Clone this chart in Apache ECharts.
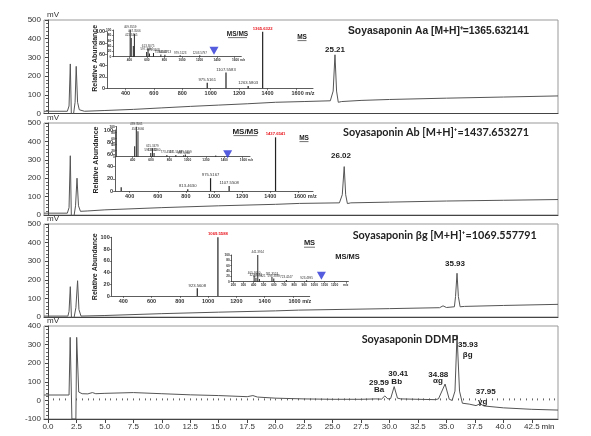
<!DOCTYPE html>
<html>
<head>
<meta charset="utf-8">
<script src="https://cdn.jsdelivr.net/npm/echarts@6/dist/echarts.min.js"></script>
<style>
  html, body { margin: 0; padding: 0; background: #fff; }
  #main { width: 591px; height: 436px; }
</style>
</head>
<body>
<div id="main"></div>
<script>
// chromatograms: [time (min), signal (mV)]
const traceAa = [[-0.35, 12], [1.7, 12], [1.85, 40], [1.96, 265], [2.05, 0], [2.12, -20], [2.25, 0], [2.38, 60], [2.48, 252], [2.6, 60], [2.75, 20], [3.2, 12], [5, 16], [7.5, 22], [10, 30], [12.5, 38], [15, 45], [17.5, 52], [20, 60], [22.5, 64], [24.8, 68], [25.05, 120], [25.21, 314], [25.35, 120], [25.5, 60], [25.8, 64], [27.5, 70], [30, 75], [35, 82], [40, 88], [44.8, 94]];
const traceAb = [[-0.35, 10], [1.7, 10], [1.85, 40], [1.96, 322], [2.05, 0], [2.15, -20], [2.3, 0], [2.42, 50], [2.55, 200], [2.68, 50], [2.85, 20], [3.5, 22], [5, 28], [10, 40], [15, 50], [20, 58], [22.1, 63], [25.6, 66], [25.85, 110], [26.02, 263], [26.15, 110], [26.3, 62], [26.6, 66], [30, 70], [35, 76], [40, 80], [44.8, 84]];
const traceBg = [[-0.35, 5], [1.75, 5], [1.85, 30], [1.96, 163], [2.06, 0], [2.15, -20], [2.3, 0], [2.45, 50], [2.6, 195], [2.72, 40], [2.9, 5], [5, 8], [10, 18], [15, 26], [20, 33], [22, 37], [30, 45], [34.4, 50], [34.7, 60], [35.0, 51], [35.7, 55], [35.8, 110], [35.93, 235], [36.05, 110], [36.2, 55], [36.6, 57], [40, 62], [44.8, 68]];
const traceDdmp = [[-0.35, 29], [1.85, 29], [1.95, 339], [2.0, 339], [2.1, -100], [2.45, -100], [2.52, 339], [2.6, 339], [2.7, 45], [3.0, 36], [3.5, 35], [3.9, 42], [4.2, 36], [5, 38], [7.5, 42], [10, 36], [12.5, 30], [15, 26], [17.5, 20], [18.0, 26], [18.4, 18], [20, 12], [22.5, 8], [25, 6], [27.5, 6], [28.8, 8], [29.3, 7], [29.59, 24], [29.85, 8], [30.1, 10], [30.41, 74], [30.7, 12], [31, 8], [32.5, 6], [34, 4], [34.3, 8], [34.88, 88], [35.25, 6], [35.5, 0], [35.75, 50], [35.93, 352], [36.15, 50], [36.4, -15], [37, -20], [37.6, -28], [37.95, -18], [38.3, -30], [40, -40], [42.5, -48], [44.8, -52]];

const timeTicks = [0, 2.5, 5, 7.5, 10, 12.5, 15, 17.5, 20, 22.5, 25, 27.5, 30, 32.5, 35, 37.5, 40, 42.5];

// full-scan MS insets
const msAaMz = [975.5161, 1107.5583, 1263.5803, 1365.6322];
const msAaInt = [10, 28, 4, 100];
const msAaLbl = ['975.5161', '1107.5583', '1263.5803', '1365.6322'];
const msAbMz = [340, 813.463, 975.5167, 1107.5508, 1437.6541];
const msAbInt = [6, 3, 21, 8, 88];
const msAbLbl = ['', '813.4630', '975.5167', '1107.5508', '1437.6541'];
const msBgMz = [923.5608, 1069.5588];
const msBgInt = [13, 100];
const msBgLbl = ['923.5608', '1069.5588'];
const mzTicks = [400, 600, 800, 1000, 1200, 1400, 1600];

// MS/MS insets
const msmsAaMz = [409.36, 421.35, 445.3, 457.36, 597.34, 613.31, 629.3, 675.36, 759.41, 805.47, 979.51, 1203.58];
const msmsAaInt = [100, 70, 40, 85, 18, 30, 12, 14, 8, 7, 5, 5];
const msmsAaLbl = ['409.3559', '421.3455', '', '457.3566', '597.3404', '613.3075', '', '675.3608', '759.4083', '805.4713', '979.5123', '1203.5797'];
const msmsAbMz = [421.3, 439.36, 457.37, 597.34, 615.35, 633.36, 773.45, 871.51, 957.51, 975.52, 1307.6];
const msmsAbInt = [35, 100, 85, 12, 28, 12, 6, 6, 5, 7, 4];
const msmsAbLbl = ['', '439.3561', '457.3666', '597.3352', '615.3479', '633.3560', '773.4516', '871.5148', '957.5066', '975.5159', ''];
const msmsBgMz = [405.36, 423.36, 441.37, 457.36, 581.35, 599.39, 723.42, 923.5];
const msmsBgInt = [22, 15, 100, 10, 18, 12, 6, 5];
const msmsBgLbl = ['405.3610', '423.3581', '441.3914', '457.3621', '581.3524', '599.3889', '723.4247', '923.4995'];
const mzTicksBg = [200, 300, 400, 500, 600, 700, 800, 900, 1000, 1100, 1200];
const precAa = [[1365.6, 22]];
const precAb = [[1437.7, 8]];
const precBg = [[1069.6, 22]];

const chart = echarts.init(document.getElementById('main'), null, { renderer: 'canvas' });

const AX = '#444';
const grid = [], xAxis = [], yAxis = [], series = [];

const panels = [
  { trace: traceAa, top: 20, height: 93.5, min: 0, max: 500 },
  { trace: traceAb, top: 123, height: 92, min: 0, max: 500 },
  { trace: traceBg, top: 224, height: 93, min: 0, max: 500 },
  { trace: traceDdmp, top: 326, height: 93, min: -100, max: 400 }
];

panels.forEach((p, i) => {
  const last = i === panels.length - 1;
  grid.push({ left: 44, top: p.top, width: 514, height: p.height, show: true, borderColor: '#999', borderWidth: 1 });
  xAxis.push({
    type: 'value', gridIndex: i, min: -0.35, max: 44.8,
    axisLine: { show: true, onZero: false, lineStyle: { color: AX } },
    axisTick: { show: last, customValues: timeTicks, length: 4, lineStyle: { color: AX } },
    axisLabel: { show: last, customValues: timeTicks, formatter: v => v.toFixed(1), fontSize: 8, color: '#333', margin: 4, fontFamily: 'Liberation Sans' },
    splitLine: { show: false }
  });
  yAxis.push({
    type: 'value', gridIndex: i, min: p.min, max: p.max, interval: 100,
    name: 'mV', nameLocation: 'end', nameGap: 1,
    nameTextStyle: { align: 'left', verticalAlign: 'bottom', fontSize: 8, color: '#333', padding: [0, 0, 0, -1] },
    axisLine: { show: true, lineStyle: { color: AX } },
    axisTick: { show: true, length: 3, lineStyle: { color: AX } },
    minorTick: { show: true, splitNumber: 5, length: 2, lineStyle: { color: '#666' } },
    axisLabel: { fontSize: 8, color: '#333', margin: 3, fontFamily: 'Liberation Sans' },
    splitLine: { show: false }
  });
  series.push({
    type: 'line', xAxisIndex: i, yAxisIndex: i, data: p.trace,
    showSymbol: false, lineStyle: { color: '#555', width: 1 }, clip: true, z: 2
  });
});

// minor ticks under the bottom panel
const minorTimes = [];
for (let t = 0; t <= 44.5; t += 0.5) minorTimes.push(t);
xAxis.push({
  type: 'value', gridIndex: 3, min: -0.35, max: 44.8,
  axisLine: { show: false }, axisLabel: { show: false }, splitLine: { show: false },
  axisTick: { show: true, customValues: minorTimes, length: 2, lineStyle: { color: '#666' } }
});

function inset(g, xmin, xmax, ticks, fmt, mz, inten, lbl, opt) {
  const gi = grid.length;
  grid.push(Object.assign({ show: false }, g));
  xAxis.push({
    type: 'value', gridIndex: gi, min: xmin, max: xmax,
    axisLine: { show: true, onZero: false, lineStyle: { color: '#333', width: 0.8 } },
    axisTick: { show: true, customValues: ticks, length: opt.tick, lineStyle: { color: '#333', width: 0.6 } },
    axisLabel: { customValues: ticks, formatter: fmt, fontSize: opt.fs, fontWeight: 'bold', color: '#333', margin: 2,
      rich: { m: { fontSize: opt.fs, fontWeight: 'bold', color: '#333', padding: [0, 0, 0, opt.mpad] } } },
    splitLine: { show: false }
  });
  const xi = xAxis.length - 1;
  yAxis.push({
    type: 'value', gridIndex: gi, min: 0, max: 100, interval: 20,
    axisLine: { show: true, lineStyle: { color: '#333', width: 0.8 } },
    axisTick: { show: true, length: opt.tick, lineStyle: { color: '#333', width: 0.6 } },
    axisLabel: { fontSize: opt.fs, fontWeight: 'bold', color: '#333', margin: 2 },
    splitLine: { show: false }
  });
  const yi = yAxis.length - 1;
  series.push({
    type: 'bar', xAxisIndex: xi, yAxisIndex: yi, barWidth: opt.bw,
    data: mz.map((m, k) => ({
      value: [m, inten[k]],
      label: { color: k === opt.red ? '#e8141c' : '#333', fontWeight: k === opt.red ? 'bold' : 'normal' }
    })),
    itemStyle: { color: '#222' },
    label: { show: true, position: 'top', distance: 1, fontSize: opt.lfs, formatter: p => lbl[p.dataIndex] },
    z: 5
  });
  if (opt.prec) {
    series.push({
      type: 'scatter', xAxisIndex: xi, yAxisIndex: yi, data: opt.prec,
      symbol: 'triangle', symbolRotate: 180, symbolSize: [9, 8],
      itemStyle: { color: '#2b35d6' }, z: 6
    });
  }
}

const fmtM = v => v === 1600 ? '{m|1600 m/z}' : String(v);

// main MS insets
inset({ left: 107, top: 31.7, width: 206, height: 56.6 }, 270, 1720, mzTicks, fmtM,
  msAaMz, msAaInt, msAaLbl, { fs: 5.5, lfs: 4.2, tick: 2, red: 3, bw: 1.2, mpad: 14 });
inset({ left: 115, top: 130, width: 198, height: 61 }, 296, 1704, mzTicks, fmtM,
  msAbMz, msAbInt, msAbLbl, { fs: 5.5, lfs: 4.2, tick: 2, red: 4, bw: 1.2, mpad: 14 });
inset({ left: 111.7, top: 237.3, width: 198, height: 58.7 }, 318, 1719, mzTicks, fmtM,
  msBgMz, msBgInt, msBgLbl, { fs: 5.5, lfs: 4.2, tick: 2, red: 1, bw: 1.2, mpad: 14 });
// MS/MS insets
inset({ left: 113.3, top: 30, width: 128, height: 26.7 }, 217, 1677, mzTicks, fmtM,
  msmsAaMz, msmsAaInt, msmsAaLbl, { fs: 3.2, lfs: 3, tick: 1.5, red: -1, bw: 0.8, mpad: 8, prec: precAa });
inset({ left: 116.7, top: 126.7, width: 133.3, height: 30 }, 225, 1682, mzTicks, fmtM,
  msmsAbMz, msmsAbInt, msmsAbLbl, { fs: 3.2, lfs: 3, tick: 1.5, red: -1, bw: 0.8, mpad: 8, prec: precAb });
inset({ left: 231.7, top: 255, width: 116.7, height: 26.7 }, 184, 1336, mzTicksBg.concat([1310]),
  v => v > 1250 ? 'm/z' : String(v),
  msmsBgMz, msmsBgInt, msmsBgLbl, { fs: 3.2, lfs: 3, tick: 1.5, red: -1, bw: 0.8, mpad: 0, prec: precBg });

// annotation text
const T = [];
function txt(s, x, y, font, o) {
  T.push(Object.assign({
    type: 'text', x: x, y: y, z: 20,
    style: { text: s, font: font, fill: '#222', textAlign: 'center', textVerticalAlign: 'middle', align: 'center', verticalAlign: 'middle' }
  }, o || {}));
}
function left(s, x, y, font) {
  T.push({ type: 'text', x: x, y: y, z: 20,
    style: { text: s, font: font, fill: '#222', textAlign: 'left', textVerticalAlign: 'middle', align: 'left', verticalAlign: 'middle' } });
}
function uline(x1, x2, y) {
  T.push({ type: 'line', z: 20, shape: { x1: x1, y1: y, x2: x2, y2: y }, style: { stroke: '#333', lineWidth: 0.7 } });
}
const TF = 'bold 10.3px "Liberation Sans", sans-serif';
const TF2 = 'bold 10.8px Lato, sans-serif';
left('Soyasaponin Aa [M+H]\u207A=1365.632141', 348, 31, TF);
left('Soyasaponin Ab [M+H]\u207A=1437.653271', 343, 132.3, TF2);
left('Soyasaponin \u03B2g [M+H]\u207A=1069.557791', 352.7, 236, TF2);
left('Soyasaponin DDMP', 361.7, 339.3, TF2);

const PF = 'bold 8px "Liberation Sans", sans-serif';
txt('25.21', 335, 49.3, PF);
txt('26.02', 341, 156, PF);
txt('35.93', 455, 264, PF);
txt('35.93', 468, 345, PF);
txt('\u03B2g', 467.7, 354.3, PF);
txt('30.41', 398.3, 374, PF);
txt('Bb', 396.7, 381.7, PF);
txt('29.59', 379, 382.7, PF);
txt('Ba', 379, 390, PF);
txt('34.88', 438.3, 375, PF);
txt('\u03B1g', 438, 380.7, PF);
txt('37.95', 485.7, 391.7, PF);
txt('\u03B3g', 482.7, 401.7, PF);
txt('min', 548, 427, '8px "Liberation Sans", sans-serif');

const MF = 'bold 6.5px "Liberation Sans", sans-serif';
txt('MS/MS', 237.5, 34.3, MF); uline(228, 247, 37.6);
txt('MS', 302, 37.3, MF); uline(297.5, 306.5, 40.6);
txt('MS/MS', 245.5, 131.7, 'bold 8px "Liberation Sans", sans-serif'); uline(233.5, 257.5, 135.6);
txt('MS', 304, 138.3, MF); uline(299.5, 308.5, 141.6);
txt('MS', 309.5, 243.3, 'bold 7.5px "Liberation Sans", sans-serif'); uline(304, 315, 247.2);
txt('MS/MS', 347.5, 257.3, 'bold 7.5px "Liberation Sans", sans-serif');

const RF = 'bold 7px "Liberation Sans", sans-serif';
txt('Relative Abundance', 95, 58.3, RF, { rotation: Math.PI / 2 });
txt('Relative Abundance', 96.5, 160, RF, { rotation: Math.PI / 2 });
txt('Relative Abundance', 95, 266.7, RF, { rotation: Math.PI / 2 });

chart.setOption({
  animation: false,
  backgroundColor: '#fff',
  grid: grid,
  xAxis: xAxis,
  yAxis: yAxis,
  series: series,
  graphic: T
});
</script>
</body>
</html>
